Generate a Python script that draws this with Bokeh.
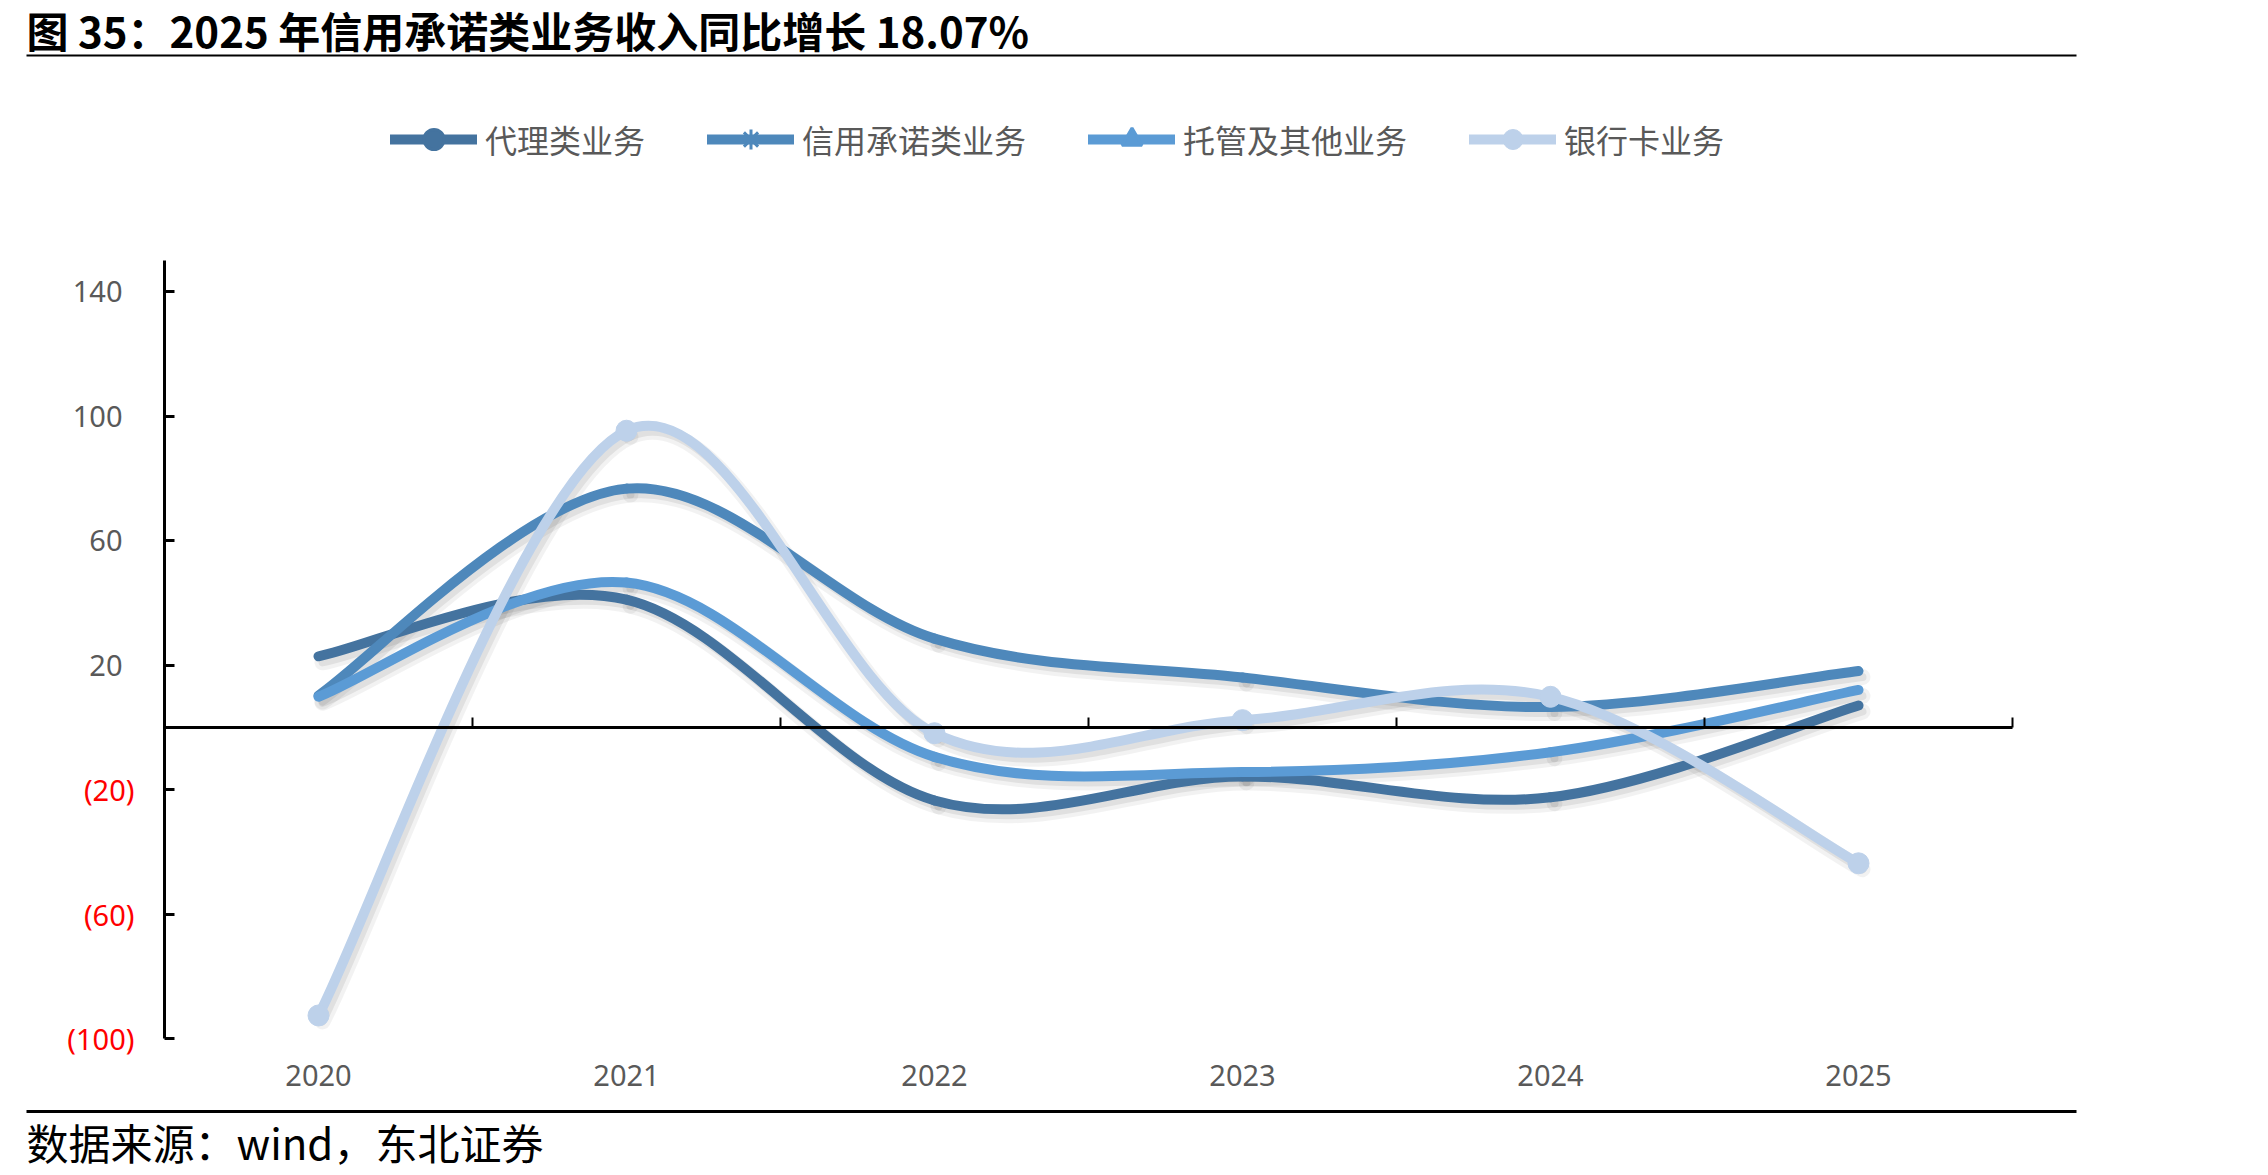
from bokeh.plotting import figure
from bokeh.models import (Range1d, LinearAxis, FixedTicker, Legend, Label,
                          LegendItem, ColumnDataSource, BoxAnnotation)
from bokeh.embed import file_html
from bokeh.resources import INLINE

# ---------------- data ----------------
years = ["2020", "2021", "2022", "2023", "2024", "2025"]
agency = [22.8, 41.0, -23.5, -15.8, -22.5, 7.0]        # 代理类业务
credit = [10.2, 76.7, 28.5, 16.0, 6.5, 18.07]          # 信用承诺类业务
custody = [9.8, 46.5, -9.5, -14.4, -8.0, 12.0]         # 托管及其他业务
card = [-92.6, 95.3, -1.9, 2.3, 9.8, -43.7]            # 银行卡业务
series_names = ["代理类业务", "信用承诺类业务", "托管及其他业务", "银行卡业务"]
y_ticks = [-100, -60, -20, 20, 60, 100, 140]

title_text = "图 35：2025 年信用承诺类业务收入同比增长 18.07%"
source_text = "数据来源：wind，东北证券"

# ---------------- styles / layout ----------------
colors = ["#44739F", "#4E88BB", "#5B9BD5", "#BDD1EA"]
legend_markers = ["circle", "asterisk", "triangle", "circle"]
W, H = 2268, 1175
FL, FR, FT, FB = 164, 2012, 260, 1038    # plot area in canvas px
YMIN, YMAX = -100, 150
CJK = "Noto Sans CJK SC"
NUM = "Noto Sans"
GRAY = "#595959"
LW = 10

n = len(years)
ppx = (FR - FL) / float(n)
ppy = (FB - FT) / float(YMAX - YMIN)
x_start = -0.5 - FL / ppx
x_end = n - 0.5 + (W - FR) / ppx
y_end = YMAX + FT / ppy
y_start = YMIN - (H - FB) / ppy


def bezier_source(vals):
    pts = [(float(i), float(v)) for i, v in enumerate(vals)]
    m = len(pts)
    d = dict(x0=[], y0=[], x1=[], y1=[], cx0=[], cy0=[], cx1=[], cy1=[])
    for i in range(m - 1):
        p0 = pts[i - 1] if i > 0 else pts[i]
        p1 = pts[i]
        p2 = pts[i + 1]
        p3 = pts[i + 2] if i + 2 < m else pts[i + 1]
        d["x0"].append(p1[0]); d["y0"].append(p1[1])
        d["x1"].append(p2[0]); d["y1"].append(p2[1])
        d["cx0"].append(p1[0] + (p2[0] - p0[0]) / 6)
        d["cy0"].append(p1[1] + (p2[1] - p0[1]) / 6)
        d["cx1"].append(p2[0] - (p3[0] - p1[0]) / 6)
        d["cy1"].append(p2[1] - (p3[1] - p1[1]) / 6)
    return ColumnDataSource(d)


p = figure(width=W, height=H,
           x_range=Range1d(x_start, x_end), y_range=Range1d(y_start, y_end),
           min_border=0, x_axis_type=None, y_axis_type=None,
           output_backend="svg", toolbar_location=None,
           outline_line_color=None, background_fill_color="white",
           border_fill_color="white")
p.grid.visible = False

dxu, dyu = 4 / ppx, 6 / ppy
p.extra_x_ranges = {"sh": Range1d(x_start - dxu, x_end - dxu),
                    "hide": Range1d(1000, 1001)}
p.extra_y_ranges = {"sh": Range1d(y_start + dyu, y_end + dyu),
                    "hide": Range1d(1000, 1001)}

all_series = [agency, credit, custody, card]
sources = [bezier_source(s) for s in all_series]

# ---- year labels along the bottom of the plot area
xa = LinearAxis(fixed_location=YMIN, bounds=(-0.5, n - 0.5),
                ticker=FixedTicker(ticks=list(range(n))))
xa.major_label_overrides = {i: y for i, y in enumerate(years)}
xa.axis_line_color = None
xa.major_tick_line_color = None
xa.minor_tick_line_color = None
xa.major_label_standoff = 20
xa.major_label_text_font = NUM
xa.major_label_text_font_size = "29px"
xa.major_label_text_color = GRAY
p.add_layout(xa, "below")

# ---- zero line axis, ticks at category boundaries
bounds = [i + 0.5 for i in range(n)]
za = LinearAxis(fixed_location=0, bounds=(-0.5, n - 0.5),
                ticker=FixedTicker(ticks=bounds))
za.major_label_overrides = {b: "" for b in bounds}
za.axis_line_color = "black"
za.axis_line_width = 3
za.major_tick_in = 10
za.major_tick_out = 0
za.major_tick_line_width = 2
za.minor_tick_line_color = None
za.major_label_standoff = 0
p.add_layout(za, "below")

# ---- y axis, positive labels gray
ya = LinearAxis(fixed_location=-0.5, bounds=(YMIN, YMAX),
                ticker=FixedTicker(ticks=y_ticks))
ya.major_label_overrides = {t: (str(t) if t > 0 else "") for t in y_ticks}
ya.axis_line_color = "black"
ya.axis_line_width = 3
ya.major_tick_in = 10
ya.major_tick_out = 0
ya.major_tick_line_width = 3
ya.minor_tick_line_color = None
ya.major_label_standoff = 42
ya.major_label_text_font = NUM
ya.major_label_text_font_size = "29px"
ya.major_label_text_color = GRAY
p.add_layout(ya, "left")

# ---- negative labels red, accounting style
neg_ticks = [t for t in y_ticks if t < 0]
ra = LinearAxis(fixed_location=-0.5, bounds=(YMIN, YMAX),
                ticker=FixedTicker(ticks=neg_ticks))
ra.major_label_overrides = {t: "(%d)" % abs(t) for t in neg_ticks}
ra.axis_line_color = None
ra.major_tick_line_color = None
ra.minor_tick_line_color = None
ra.major_tick_in = 0
ra.major_tick_out = 0
ra.major_label_standoff = 30
ra.major_label_text_font = NUM
ra.major_label_text_font_size = "29px"
ra.major_label_text_color = "#FF0000"
p.add_layout(ra, "left")

# ---- soft shadows
for src in sources:
    p.bezier(x0="x0", y0="y0", x1="x1", y1="y1", cx0="cx0", cy0="cy0",
             cx1="cx1", cy1="cy1", source=src, line_color="black",
             line_alpha=0.05, line_width=LW + 6, line_cap="round",
             x_range_name="sh", y_range_name="sh")
    p.bezier(x0="x0", y0="y0", x1="x1", y1="y1", cx0="cx0", cy0="cy0",
             cx1="cx1", cy1="cy1", source=src, line_color="black",
             line_alpha=0.07, line_width=LW - 2, line_cap="round",
             x_range_name="sh", y_range_name="sh")

# ---- curves (+ legend glyph renderers kept off-screen)
items = []
for k, (src, vals) in enumerate(zip(sources, all_series)):
    c = colors[k]
    xs = list(range(len(vals)))
    p.bezier(x0="x0", y0="y0", x1="x1", y1="y1", cx0="cx0", cy0="cy0",
             cx1="cx1", cy1="cy1", source=src, line_color=c,
             line_width=LW, line_cap="round")
    leg_line = p.line(x=xs, y=vals, line_color=c, line_width=LW, line_cap="round",
                      x_range_name="hide", y_range_name="hide")
    if k == 3:
        mk = p.scatter(x=xs, y=vals, marker="circle", size=21,
                       fill_color=c, line_color=c)
    else:
        mk = p.scatter(x=xs, y=vals, marker=legend_markers[k], size=20,
                       fill_color=c, line_color=c, line_width=3,
                       x_range_name="hide", y_range_name="hide")
    items.append(LegendItem(label=series_names[k], renderers=[leg_line, mk]))

legend = Legend(items=items, orientation="horizontal",
                location=(390, H - 164),
                glyph_width=87, glyph_height=50, label_height=50,
                label_standoff=8, spacing=62, padding=0, margin=0,
                border_line_color=None, background_fill_alpha=0,
                label_text_font=CJK, label_text_font_size="32px",
                label_text_color=GRAY, label_text_baseline="middle")
p.add_layout(legend, "center")

# ---- title, rules, source
p.add_layout(Label(x=26, y=H - 29, x_units="screen", y_units="screen",
                   text=title_text, text_baseline="middle",
                   text_font=CJK, text_font_style="bold",
                   text_font_size="42px", text_color="black"))
p.add_layout(BoxAnnotation(left=26, right=2076, bottom=H - 56, top=H - 54,
                           left_units="screen", right_units="screen",
                           top_units="screen", bottom_units="screen",
                           fill_color="black", fill_alpha=1, line_color=None))
p.add_layout(BoxAnnotation(left=26, right=2076, bottom=H - 1112.5, top=H - 1109.5,
                           left_units="screen", right_units="screen",
                           top_units="screen", bottom_units="screen",
                           fill_color="black", fill_alpha=1, line_color=None))
p.add_layout(Label(x=26, y=H - 1141, x_units="screen", y_units="screen",
                   text=source_text, text_baseline="middle",
                   text_font=CJK, text_font_size="42px", text_color="black"))

open("out.html", "w").write(file_html(p, INLINE))
